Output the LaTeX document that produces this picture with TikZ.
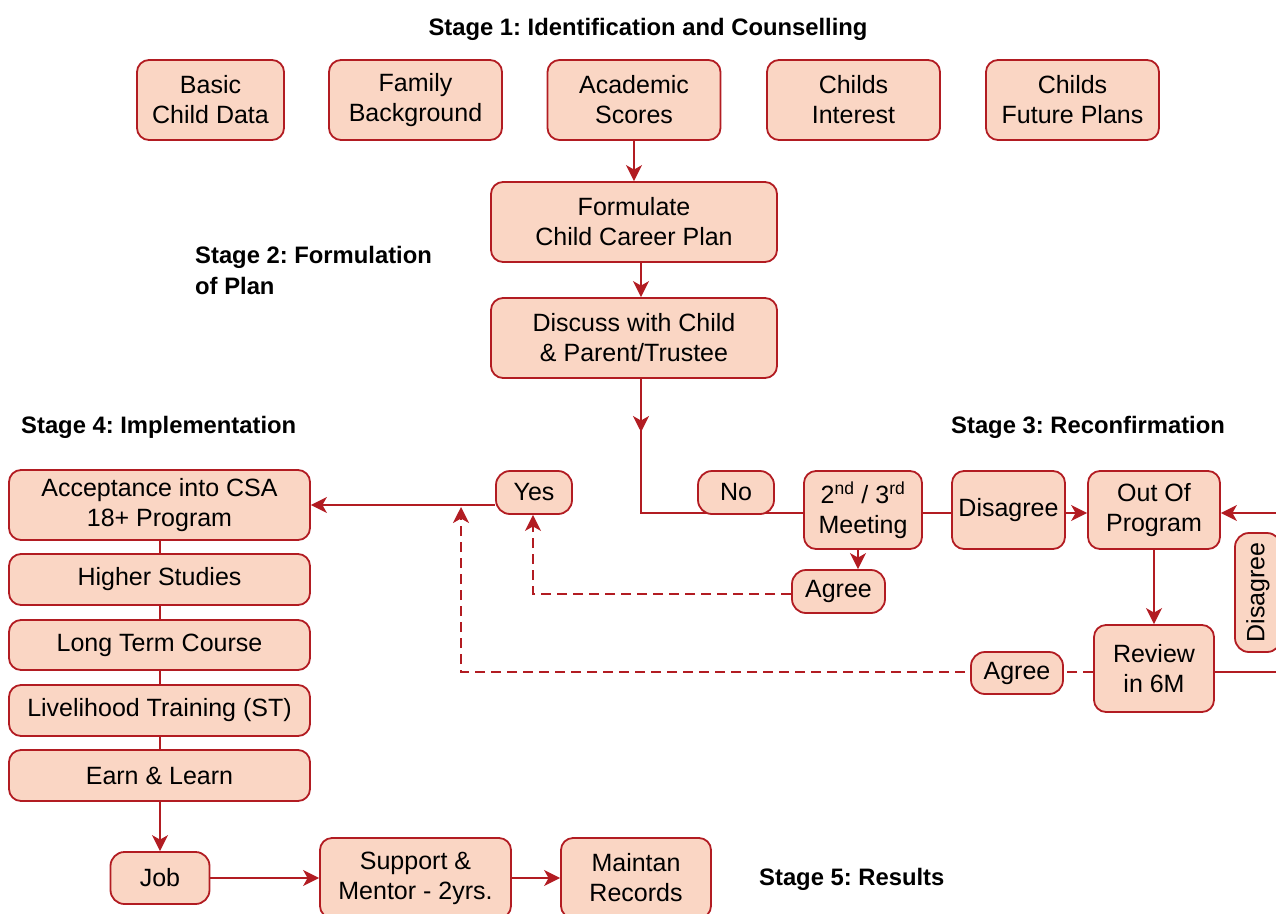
\documentclass[tikz,border=0pt]{standalone}
\usepackage{fontspec}
\setmainfont{Liberation Sans}
\usetikzlibrary{arrows.meta}
\pgfdeclarelayer{bg}
\pgfsetlayers{bg,main}
\definecolor{boxfill}{RGB}{250,214,196}
\definecolor{boxline}{RGB}{178,28,34}
\frenchspacing
\begin{document}
\begin{tikzpicture}[x=1pt,y=-1pt,
 bx/.style={draw=boxline, fill=boxfill, line width=1.8pt, rounded corners=12pt, align=center, inner sep=0pt, font=\fontsize{25}{30}\selectfont},
 ln/.style={draw=boxline, line width=1.8pt},
 tip/.style={-{Stealth[length=16pt,width=16pt,inset=4.5pt]}},
 arr/.style={ln, tip},
 dsh/.style={ln, dash pattern=on 10pt off 6pt},
 ttl/.style={font=\bfseries\fontsize{23.8}{31}\selectfont, inner sep=0pt, align=left}]
\useasboundingbox (0,0) rectangle (1276,913);

% stage titles
\node[ttl] (s1) at (648,29) {Stage 1: Identification and Counselling};
\node[ttl, anchor=west] (s2) at (195,270) {Stage 2: Formulation\\of Plan};
\node[ttl, anchor=west] (s4) at (21,427) {Stage 4: Implementation};
\node[ttl, anchor=west] (s3) at (951,427) {Stage 3: Reconfirmation};
\node[ttl, anchor=west] (s5) at (759,879) {Stage 5: Results};

% stage 1
\node[bx, minimum width=147pt, minimum height=80pt] (basic) at (210.5,100) {Basic\\Child Data};
\node[bx, minimum width=173pt, minimum height=80pt] (family) at (415.5,100) {Family\\Background};
\node[bx, minimum width=173pt, minimum height=80pt] (academic) at (634,100) {Academic\\Scores};
\node[bx, minimum width=173pt, minimum height=80pt] (interest) at (853.5,100) {Childs\\Interest};
\node[bx, minimum width=173pt, minimum height=80pt] (future) at (1072.5,100) {Childs\\Future Plans};

% stage 2
\node[bx, minimum width=286pt, minimum height=80pt] (formulate) at (634,222) {Formulate\\Child Career Plan};
\node[bx, minimum width=286pt, minimum height=80pt] (discuss) at (634,338) {Discuss with Child\\\& Parent/Trustee};

% stage 3
\node[bx, minimum width=76pt, minimum height=43pt, rounded corners=14pt] (yes) at (534,492.5) {Yes};
\node[bx, minimum width=76pt, minimum height=43pt, rounded corners=14pt] (no) at (736,492.5) {No};
\node[bx, minimum width=118pt, minimum height=78pt] (meeting) at (863,510) {2\textsuperscript{nd} / 3\textsuperscript{rd}\\Meeting};
\node[bx, minimum width=93pt, minimum height=43pt, rounded corners=14pt] (agreeA) at (838.5,591.5) {Agree};
\node[bx, minimum width=113pt, minimum height=78pt] (disagree) at (1008.5,510) {Disagree};
\node[bx, minimum width=132pt, minimum height=78pt] (out) at (1154,510) {Out Of\\Program};
\node[bx, minimum width=120pt, minimum height=87pt] (review) at (1154,668.5) {Review\\in 6M};
\node[bx, minimum width=92pt, minimum height=42pt, rounded corners=14pt] (agreeB) at (1017,673) {Agree};
\node[bx, rotate=90, minimum width=119pt, minimum height=46pt, rounded corners=14pt] (disagreeB) at (1258,592.5) {Disagree};

% stage 4
\node[bx, minimum width=301pt, minimum height=70pt] (accept) at (159.5,505) {Acceptance into CSA\\18+ Program};
\node[bx, minimum width=301pt, minimum height=51pt] (higher) at (159.5,579.5) {Higher Studies};
\node[bx, minimum width=301pt, minimum height=50pt] (long) at (159.5,645) {Long Term Course};
\node[bx, minimum width=301pt, minimum height=51pt] (live) at (159.5,710.5) {Livelihood Training (ST)};
\node[bx, minimum width=301pt, minimum height=51pt] (earn) at (159.5,775.5) {Earn \& Learn};

% stage 5
\node[bx, minimum width=99pt, minimum height=52pt, rounded corners=14pt] (job) at (160,878) {Job};
\node[bx, minimum width=191pt, minimum height=80pt] (support) at (415.5,878) {Support \&\\Mentor - 2yrs.};
\node[bx, minimum width=150pt, minimum height=80pt] (maintan) at (636,878) {Maintan\\Records};

% helper coordinates
\coordinate (cx) at (641,0);
\coordinate (colx) at (160,0);
\coordinate (ly) at (0,513);
\coordinate (ry) at (0,672);
\coordinate (ay) at (0,594);
\coordinate (rt) at (1300,0);
\coordinate (mx) at (858,0);
\coordinate (dx) at (461,0);
\coordinate (yx) at (533,0);
\coordinate (midA) at (641,432);
\coordinate (midB) at (641,425);

\begin{pgfonlayer}{bg}
\draw[arr] (academic) -- (formulate);
\draw[arr] (formulate.south -| cx) -- (discuss.north -| cx);
\draw[arr] (discuss.south -| cx) -- (midA);
\draw[ln] (midB) -- (cx |- ly) -- (meeting.west |- ly);
\draw[ln] (meeting.east |- ly) -- (disagree.west |- ly);
\draw[arr] (disagree.east |- ly) -- (out.west |- ly);
\draw[arr] (rt |- ly) -- (out.east |- ly);
\draw[ln] (review.east |- ry) -- (rt |- ry) -- (rt |- ly);
\draw[arr] (out.south) -- (review.north);
\draw[arr] (meeting.south -| mx) -- (agreeA.north -| mx);
\draw[dsh, tip] (agreeA.west |- ay) -- (yx |- ay) -- (yes.south -| yx);
\draw[dsh, tip] (review.west |- ry) -- (dx |- ry) -- (dx |- 0,507);
\draw[arr] (yes.west |- accept.east) -- (accept.east);
\draw[ln] (accept.center -| colx) -- (earn.center -| colx);
\draw[arr] (earn.south -| colx) -- (job.north);
\draw[arr] (job.east) -- (support.west |- job.east);
\draw[arr] (support.east) -- (maintan.west);
\end{pgfonlayer}
\end{tikzpicture}
\end{document}
